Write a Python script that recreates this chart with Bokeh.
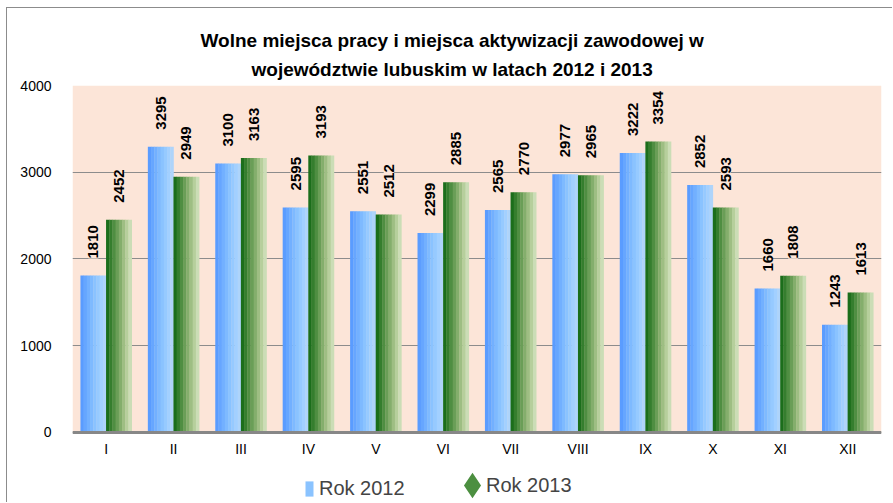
from math import pi
from bokeh.plotting import figure
from bokeh.models import (ColumnDataSource, LabelSet, Legend, LegendItem, BoxAnnotation,
                          Span, FactorRange, Range1d, FixedTicker, Title)
from bokeh.transform import dodge
from bokeh.embed import file_html
from bokeh.resources import INLINE
from bokeh.core.properties import value

# ---- data ----
months = ["I", "II", "III", "IV", "V", "VI", "VII", "VIII", "IX", "X", "XI", "XII"]
rok_2012 = [1810, 3295, 3100, 2595, 2551, 2299, 2565, 2977, 3222, 2852, 1660, 1243]
rok_2013 = [2452, 2949, 3163, 3193, 2512, 2885, 2770, 2965, 3354, 2593, 1808, 1613]
series_names = ["Rok 2012", "Rok 2013"]
title_lines = ["Wolne miejsca pracy i miejsca aktywizacji zawodowej w",
               "województwie lubuskim w latach 2012 i 2013"]
y_ticks = [0, 1000, 2000, 3000, 4000]

# ---- style ----
FONT = "Liberation Sans"
PEACH = "#FCE5D8"
BLUE_STRIPS = ["#5A9CFF", "#66A6FF", "#72B0FF", "#7EBAFF", "#8AC3FF", "#96CAFF", "#A2D0FF", "#AED4FA"]
GREEN_STRIPS = ["#1B6E1B", "#357E2E", "#4F8E42", "#6A9E57", "#84AE6C", "#9EBE83", "#B6CF9C", "#CBDDB6"]
BAR_W = 0.38
Y_BOTTOM = -807   # room under the zero line for month names and legend

src = ColumnDataSource(dict(
    month=months, v12=rok_2012, v13=rok_2013,
    l12=[str(v) for v in rok_2012], l13=[str(v) for v in rok_2013],
))

p = figure(x_range=FactorRange(*months), y_range=Range1d(Y_BOTTOM, 4000),
           width=892, height=502, output_backend="svg", toolbar_location=None,
           x_axis_location=None,
           min_border_left=72, min_border_right=11, min_border_top=85, min_border_bottom=0)
# a y range far from the data, for the legend-only diamond renderer
p.extra_y_ranges = {"legend_only": Range1d(100000, 200000)}
p.border_fill_alpha = 0
p.styles = {"box-shadow": "inset 6px 0 0 0 #ffffff, inset 0 7px 0 0 #ffffff, "
                          "inset 7px 0 0 0 #8c8c8c, inset 0 8px 0 0 #8c8c8c"}

# title: line 1 on top, line 2 nearest the plot
p.title.text = title_lines[0]
p.title.align = "left"
p.title.offset = 128
p.title.standoff = 0
t2 = Title(text=title_lines[1], align="left", offset=179, standoff=12)
for t in (p.title, t2):
    t.text_font = FONT
    t.text_font_size = "19px"
    t.text_font_style = "bold"
    t.text_color = "#000000"
p.add_layout(t2, "above")

p.background_fill_color = "white"
p.outline_line_color = None
p.xgrid.grid_line_color = None
p.xgrid.visible = False
p.ygrid.grid_line_color = "#8C8C8C"
p.ygrid.grid_line_width = 1
p.ygrid.ticker = FixedTicker(ticks=y_ticks)
# peach plot area between 0 and the top, painted beneath the grid lines
p.add_layout(BoxAnnotation(bottom=0, top=4000, fill_color=PEACH, fill_alpha=1,
                           line_color=None, level="image"))

n = len(BLUE_STRIPS)
sw = BAR_W / n
blue_renderers = []
for i, c in enumerate(BLUE_STRIPS):
    off = -BAR_W + (i + 0.5) * sw
    blue_renderers.append(p.vbar(x=dodge("month", off, range=p.x_range), top="v12",
                                 width=sw * 1.1, source=src, fill_color=c, line_color=None))
for i, c in enumerate(GREEN_STRIPS):
    off = (i + 0.5) * sw
    p.vbar(x=dodge("month", off, range=p.x_range), top="v13", width=sw * 1.1,
           source=src, fill_color=c, line_color=None)

# category axis line and month names
p.add_layout(Span(location=0, dimension="width", line_color="#878787", line_width=3))
p.add_layout(LabelSet(x="month", y=0, text="month", source=src, y_offset=-17,
                      text_align="center", text_baseline="middle",
                      text_font=value(FONT), text_font_size="14px", text_color="black"))

for col, lab, off in (("v12", "l12", -BAR_W / 2), ("v13", "l13", BAR_W / 2)):
    p.add_layout(LabelSet(x=dodge("month", off, range=p.x_range), y=col, text=lab, source=src,
                          angle=pi / 2, text_align="left", text_baseline="middle",
                          y_offset=17, text_font=value(FONT), text_font_size="15px",
                          text_font_style="bold", text_color="black",
                          background_fill_color=PEACH))

# diamond key for 2013: drawn on the far-away range, so only its legend glyph shows
leg13 = p.scatter(x="month", y="v13", source=src, y_range_name="legend_only",
                  marker="diamond", fill_color="#4C8F40",
                  line_color="#4C8F40", line_width=8, line_join="miter")

legend_a = Legend(items=[LegendItem(label=series_names[0], renderers=[blue_renderers[4]])],
                  location=(232, 2), label_text_font=FONT, label_text_font_size="20px",
                  glyph_width=10, glyph_height=19, label_height=19, label_standoff=5,
                  background_fill_alpha=0, border_line_color=None, padding=0, margin=0)
legend_b = Legend(items=[LegendItem(label=series_names[1], renderers=[leg13])],
                  location=(386, 3), label_text_font=FONT, label_text_font_size="20px",
                  glyph_width=28, glyph_height=28, label_height=28, label_standoff=0,
                  background_fill_alpha=0, border_line_color=None, padding=0, margin=0)
p.add_layout(legend_a, "center")
p.add_layout(legend_b, "center")

p.yaxis.ticker = FixedTicker(ticks=y_ticks)
p.yaxis.axis_line_color = None
p.yaxis.major_tick_line_color = None
p.yaxis.minor_tick_line_color = None
p.yaxis.major_label_text_font = FONT
p.yaxis.major_label_text_font_size = "14px"
p.yaxis.major_label_standoff = 15
p.yaxis.major_label_text_color = "black"

open("out.html", "w").write(file_html(p, INLINE))
